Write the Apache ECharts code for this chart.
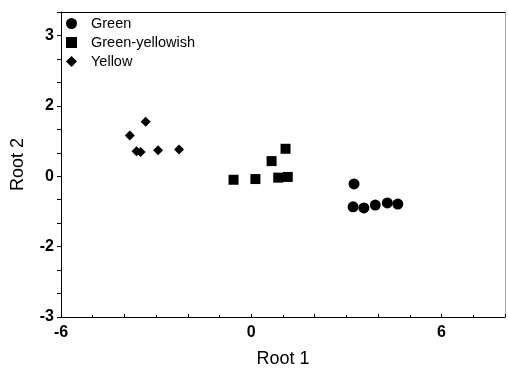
<!DOCTYPE html>
<html>
<head>
<meta charset="utf-8">
<script src="https://cdn.jsdelivr.net/npm/echarts@6/dist/echarts.min.js"></script>
<style>
html,body{margin:0;padding:0;background:#fff;}
#chart{width:508px;height:373px;}
</style>
</head>
<body>
<div id="chart"></div>
<script>
// Series data [Root 1, Root 2]
const seriesNames = ['Green', 'Green-yellowish', 'Yellow'];
const greenX = [3.24, 3.21, 3.55, 3.91, 4.29, 4.62];
const greenY = [-0.22, -0.87, -0.90, -0.82, -0.76, -0.79];
const gyX = [-0.56, 0.13, 0.64, 1.08, 0.85, 1.15];
const gyY = [-0.10, -0.08, 0.43, 0.78, -0.04, -0.02];
const yellowX = [-3.33, -3.83, -3.62, -3.49, -2.94, -2.28];
const yellowY = [1.55, 1.16, 0.71, 0.69, 0.74, 0.76];

// Tick labels
const xTickValues = [-6, 0, 6];
const xTickLabels = ['-6', '0', '6'];
const yTickValues = [-4, -2, 0, 2, 4];
const yTickLabels = ['-3', '-2', '0', '2', '3'];

function pairs(xs, ys) { return xs.map((x, i) => [x, ys[i]]); }
function lookup(vals, labels) {
  return function (v) {
    for (let i = 0; i < vals.length; i++) {
      if (Math.abs(v - vals[i]) < 1e-6) return labels[i];
    }
    return '';
  };
}

const FONT = "'Liberation Sans', Arial, sans-serif";
const chart = echarts.init(document.getElementById('chart'));
chart.setOption({
  animation: false,
  backgroundColor: '#fff',
  grid: { left: 61, right: 1, top: 12, bottom: 52, containLabel: false },
  legend: {
    orient: 'vertical',
    left: 66,
    top: 16,
    padding: 0,
    itemWidth: 11,
    itemHeight: 11,
    itemGap: 4,
    itemStyle: { opacity: 1 },
    textStyle: { fontFamily: FONT, fontSize: 14.5, color: '#000', padding: [0, 0, 0, 9] },
    data: seriesNames
  },
  xAxis: [{
    type: 'value', min: -6, max: 8, interval: 2,
    name: 'Root 1', nameLocation: 'middle', nameGap: 33,
    nameTextStyle: { fontFamily: FONT, fontSize: 18, color: '#000' },
    axisLine: { show: true, onZero: false, lineStyle: { color: '#000', width: 1 } },
    axisTick: { show: true, inside: true, length: 3, lineStyle: { color: '#000' } },
    minorTick: { show: true, splitNumber: 2, length: 2, lineStyle: { color: '#000' } },
    axisLabel: { formatter: lookup(xTickValues, xTickLabels), fontFamily: FONT, fontSize: 16, fontWeight: 'bold', color: '#000', margin: 8, showMinLabel: true, showMaxLabel: true },
    splitLine: { show: false }
  }, {
    type: 'value', min: -6, max: 8, position: 'top',
    axisLine: { show: true, onZero: false, lineStyle: { color: '#000', width: 1 } },
    axisTick: { show: false }, axisLabel: { show: false }, splitLine: { show: false }
  }],
  yAxis: [{
    type: 'value', min: -4, max: 14 / 3, interval: 2 / 3,
    name: 'Root 2', nameLocation: 'middle', nameGap: 34,
    nameTextStyle: { fontFamily: FONT, fontSize: 18, color: '#000' },
    axisLine: { show: true, onZero: false, lineStyle: { color: '#000', width: 1 } },
    axisTick: { show: true, inside: false, length: 4, lineStyle: { color: '#000' } },
    axisLabel: { formatter: lookup(yTickValues, yTickLabels), fontFamily: FONT, fontSize: 16, fontWeight: 'bold', color: '#000', margin: 7, showMinLabel: true, showMaxLabel: true },
    splitLine: { show: false }
  }, {
    type: 'value', min: -4, max: 14 / 3, position: 'right',
    axisLine: { show: true, onZero: false, lineStyle: { color: '#aaa', width: 1 } },
    axisTick: { show: false }, axisLabel: { show: false }, splitLine: { show: false }
  }],
  series: [
    { name: seriesNames[0], type: 'scatter', symbol: 'circle', symbolSize: 11,
      itemStyle: { color: '#000', opacity: 1 }, data: pairs(greenX, greenY) },
    { name: seriesNames[1], type: 'scatter', symbol: 'rect', symbolSize: 10,
      itemStyle: { color: '#000', opacity: 1 }, data: pairs(gyX, gyY) },
    { name: seriesNames[2], type: 'scatter', symbol: 'diamond', symbolSize: 10,
      itemStyle: { color: '#000', opacity: 1 }, data: pairs(yellowX, yellowY) }
  ]
});
</script>
</body>
</html>
